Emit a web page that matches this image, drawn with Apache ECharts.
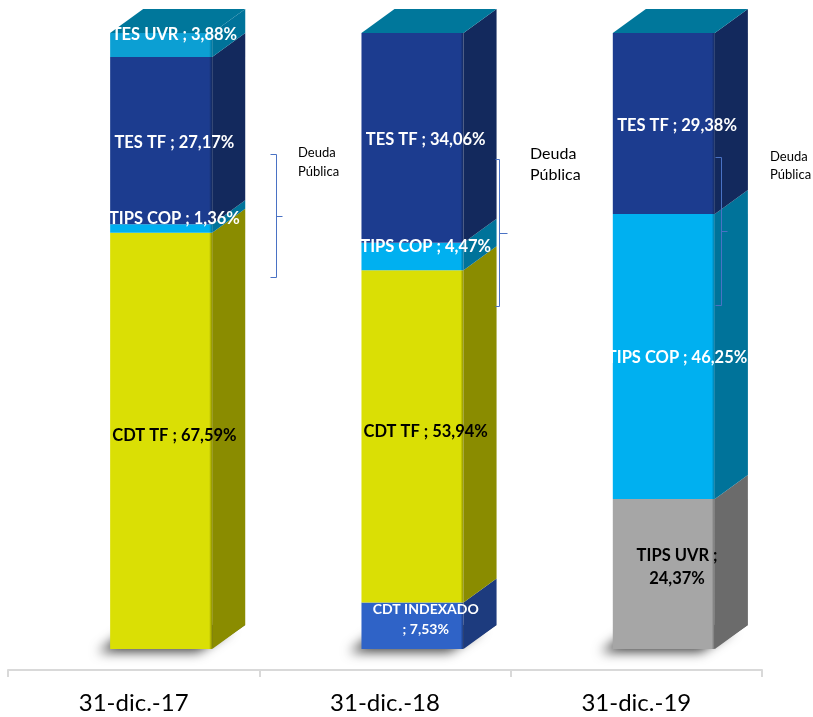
<!DOCTYPE html>
<html>
<head>
<meta charset="utf-8">
<script src="https://cdn.jsdelivr.net/npm/echarts@6/dist/echarts.min.js"></script>
<style>
html,body{margin:0;padding:0;background:#fff;}
#chart{width:813px;height:717px;}
</style>
</head>
<body>
<div id="chart"></div>
<script>
// ---- data ----
const categories = ['31-dic.-17', '31-dic.-18', '31-dic.-19'];
const seriesNames = ['CDT INDEXADO', 'TIPS UVR', 'CDT TF', 'TIPS COP', 'TES TF', 'TES UVR'];
const cdtIndexado = [0, 7.53, 0];
const tipsUvr = [0, 0, 24.37];
const cdtTf = [67.59, 53.94, 0];
const tipsCop = [1.36, 4.47, 46.25];
const tesTf = [27.17, 34.06, 29.38];
const tesUvr = [3.88, 0, 0];
const annotationText = 'Deuda\nPública';

// ---- styles ----
const seriesValues = [cdtIndexado, tipsUvr, cdtTf, tipsCop, tesTf, tesUvr];
const looks = {
  'CDT INDEXADO': {front: '#2F63C7', side: '#1D3B7E', label: '#ffffff', size: 14, brk: 'before', dy: -6},
  'TIPS UVR':     {front: '#A6A6A6', side: '#6B6B6B', label: '#000000', size: 16.5, brk: 'after', dy: -7},
  'CDT TF':       {front: '#DADF05', side: '#8A8C00', label: '#000000', size: 16.5, dy: -5},
  'TIPS COP':     {front: '#00B0F0', side: '#00739A', label: '#ffffff', size: 16.5, dy: 1},
  'TES TF':       {front: '#1C3C8F', side: '#13295D', label: '#ffffff', size: 16.5, dy: 2},
  'TES UVR':      {front: '#0C9FD3', side: '#00739A', label: '#ffffff', size: 16.5, dy: -8}
};
const topColor = '#00779B';

function fmt(v) { return v.toFixed(2).replace('.', ','); }

const series = seriesNames.map(function (name, si) {
  const data = categories.map(function (c, ci) {
    let lo = 0;
    for (let k = 0; k < si; k++) lo += seriesValues[k][ci];
    const v = seriesValues[si][ci];
    return [ci, lo, lo + v, v];
  });
  const lk = looks[name];
  return {
    type: 'custom',
    name: name,
    data: data,
    encode: {x: 0, y: [1, 2]},
    renderItem: function (params, api) {
      const cat = api.value(0), lo = api.value(1), hi = api.value(2), val = api.value(3);
      if (!val) return null;
      const pLo = api.coord([cat, lo]);
      const pHi = api.coord([cat, hi]);
      const bw = api.size([1, 0])[0];
      const x0 = pLo[0] - bw * 0.0936;
      const w = bw * 0.406;
      const dx = bw * 0.1315;
      const dy = 24;
      const yb = pLo[1], yt = pHi[1];
      const children = [];
      if (lo === 0) {
        children.push({
          type: 'polygon', z2: -10,
          shape: {points: [[x0 + 2, yb - 1], [x0 + w, yb - 1], [x0 + w + dx, yb - dy], [x0 + dx, yb - dy]]},
          style: {fill: 'rgba(90,90,90,1)', shadowColor: 'rgba(0,0,0,0.75)', shadowBlur: 12, shadowOffsetX: -14, shadowOffsetY: 4}
        });
      }
      children.push({
        type: 'rect',
        shape: {x: x0, y: yt, width: w, height: yb - yt},
        style: {fill: {type: 'linear', x: 0, y: 0, x2: 1, y2: 0, colorStops: [
          {offset: 0, color: lk.front}, {offset: 0.03, color: lk.front},
          {offset: 0.97, color: lk.front}, {offset: 1, color: lk.side}]}}
      });
      children.push({
        type: 'polygon',
        shape: {points: [[x0 + w, yb], [x0 + w + dx, yb - dy], [x0 + w + dx, yt - dy], [x0 + w, yt]]},
        style: {fill: lk.side}
      });
      if (hi >= 99.99) {
        children.push({
          type: 'polygon',
          shape: {points: [[x0, yt], [x0 + dx, yt - dy], [x0 + w + dx, yt - dy], [x0 + w, yt]]},
          style: {fill: topColor}
        });
      }
      let txt = name + ' ; ' + fmt(val) + '%';
      if (lk.brk === 'before') txt = name + '\n; ' + fmt(val) + '%';
      if (lk.brk === 'after') txt = name + ' ;\n' + fmt(val) + '%';
      const ldy = val < 5 ? -10 : lk.dy;
      children.push({
        type: 'text', z2: 100,
        style: {
          text: txt, x: pLo[0] + bw * 0.162, y: (yb + yt) / 2 + ldy,
          fill: lk.label, fontFamily: 'Lato', fontWeight: 'bold', fontSize: lk.size,
          lineHeight: lk.size + 6, align: 'center', verticalAlign: 'middle'
        }
      });
      return {type: 'group', children: children};
    }
  };
});

function bracket(x, yTop, yBot, yMid, left, right) {
  return {
    type: 'group', z: 100, children: [
      {type: 'polyline', z: 100, shape: {points: [[x - left, yTop], [x, yTop], [x, yBot], [x - left, yBot]]},
        style: {stroke: '#4A72C4', lineWidth: 1, fill: null}},
      {type: 'line', z: 100, shape: {x1: x, y1: yMid, x2: x + right, y2: yMid},
        style: {stroke: '#4A72C4', lineWidth: 1}}
    ]
  };
}
function annot(x, y, size, lh) {
  return {type: 'text', left: x, top: y, z: 100,
    style: {text: annotationText, fontFamily: 'Lato', fontSize: size, lineHeight: lh, fill: '#000'}};
}

const chart = echarts.init(document.getElementById('chart'));
chart.setOption({
  animation: false,
  backgroundColor: '#ffffff',
  grid: {left: 8, right: 51, top: 33, bottom: 68},
  xAxis: {
    type: 'category', data: categories, offset: 21,
    axisLine: {onZero: false, lineStyle: {color: '#D9D9D9', width: 2}},
    axisTick: {show: true, length: 7, lineStyle: {color: '#D9D9D9', width: 2}},
    axisLabel: {fontFamily: 'Lato', fontSize: 24, color: '#000', margin: 21}
  },
  yAxis: {type: 'value', min: 0, max: 100, show: false},
  series: series,
  graphic: [
    bracket(276.5, 154.5, 277.5, 216.5, 6, 6),
    bracket(499.5, 159.5, 306.5, 233.5, 4, 8),
    bracket(721.5, 157.5, 305.5, 231.5, 6, 6),
    annot(298, 143, 13, 19),
    annot(530, 143, 16, 21),
    annot(770, 148, 13, 18)
  ]
});
</script>
</body>
</html>
